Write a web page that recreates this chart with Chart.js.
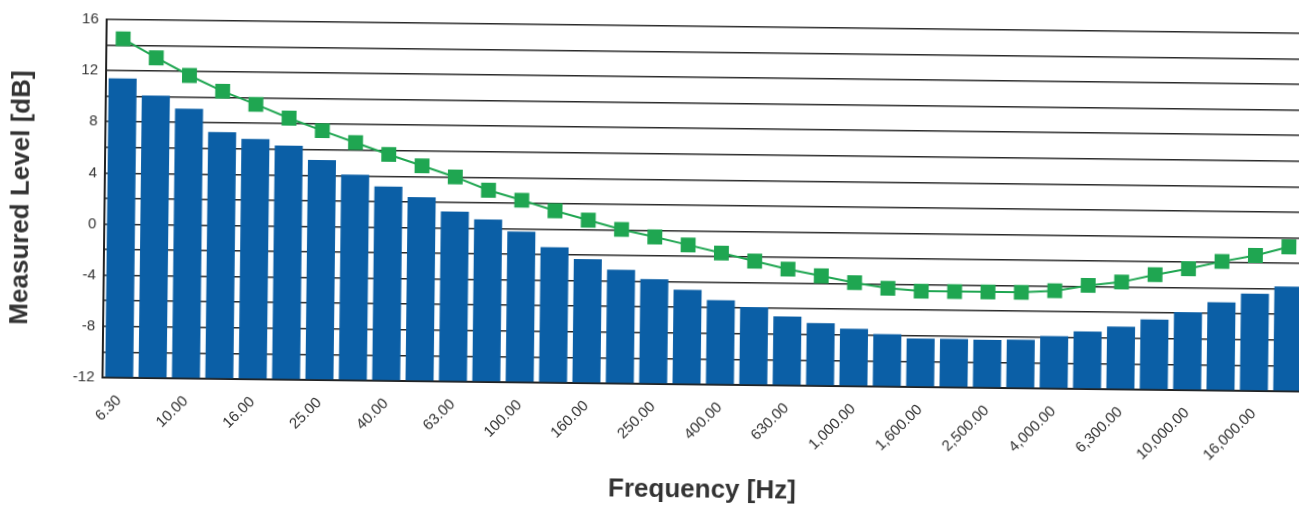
<!DOCTYPE html>
<html>
<head>
<meta charset="utf-8">
<script src="https://cdn.jsdelivr.net/npm/chart.js@4.4.1/dist/chart.umd.min.js"></script>
<style>
  html, body { margin: 0; padding: 0; background: #ffffff; overflow: hidden; width: 1299px; height: 505px; }
  #wrap { position: absolute; left: 0; top: 0; width: 1316px; height: 505px; transform: rotate(0.67deg); transform-origin: 660px 252px; }
</style>
</head>
<body>
<div id="wrap"><canvas id="c" width="1316" height="505"></canvas></div>
<script>
// Frequency categories (1/3 octave bands), shown as tick labels
const frequencies = ['6.30','8.00','10.00','12.50','16.00','20.00','25.00','31.50','40.00','50.00',
  '63.00','80.00','100.00','125.00','160.00','200.00','250.00','315.00','400.00','500.00',
  '630.00','800.00','1,000.00','1,250.00','1,600.00','2,000.00','2,500.00','3,150.00','4,000.00','5,000.00',
  '6,300.00','8,000.00','10,000.00','12,500.00','16,000.00','20,000.00'];

// Measured level per band (blue bars), dB
const measuredLevel = [11.4, 10.1, 9.1, 7.3, 6.8, 6.3, 5.2, 4.1, 3.2, 2.4,
  1.3, 0.7, -0.2, -1.4, -2.3, -3.1, -3.8, -4.6, -5.4, -5.9,
  -6.6, -7.1, -7.5, -7.9, -8.2, -8.2, -8.25, -8.2, -7.9, -7.5,
  -7.1, -6.5, -5.9, -5.1, -4.4, -3.8];

// Reference curve (green squares), dB
const referenceLevel = [14.5, 13.05, 11.7, 10.5, 9.5, 8.45, 7.5, 6.6, 5.7, 4.85,
  4.0, 3.0, 2.25, 1.45, 0.75, 0.05, -0.5, -1.1, -1.7, -2.3,
  -2.9, -3.4, -3.9, -4.3, -4.5, -4.5, -4.5, -4.5, -4.35, -3.9,
  -3.6, -3.0, -2.5, -1.9, -1.4, -0.7];

// Y axis range / labelled ticks
const yMin = -12, yMax = 16, yGridStep = 2, yLabelStep = 4;

const textColor = '#333333';
const fontFamily = '"Liberation Sans", Arial, Helvetica, sans-serif';

new Chart(document.getElementById('c'), {
  data: {
    labels: frequencies,
    datasets: [
      {
        type: 'line',
        label: 'Reference',
        data: referenceLevel,
        borderColor: '#1fa651',
        backgroundColor: '#1fa651',
        borderWidth: 2,
        pointStyle: 'rect',
        pointRadius: 10.5,
        pointBorderWidth: 0,
        pointBackgroundColor: '#1fa651',
        tension: 0,
        order: 0
      },
      {
        type: 'bar',
        label: 'Measured',
        data: measuredLevel,
        base: yMin,
        backgroundColor: '#0b5fa6',
        borderWidth: 0,
        barPercentage: 0.84,
        categoryPercentage: 1.0,
        order: 1
      }
    ]
  },
  options: {
    responsive: false,
    animation: false,
    events: [],
    layout: { padding: { left: 0, top: 26, right: 0, bottom: 0 } },
    plugins: { legend: { display: false }, tooltip: { enabled: false }, title: { display: false } },
    scales: {
      x: {
        offset: true,
        grid: { display: false, drawTicks: false },
        border: { display: true, color: '#222222', width: 2 },
        ticks: {
          autoSkip: false,
          maxRotation: 45,
          minRotation: 45,
          padding: 14,
          color: textColor,
          font: { family: fontFamily, size: 15 },
          callback: function (value, index) { return index % 2 === 0 ? this.getLabelForValue(value) : ''; }
        },
        title: {
          display: true,
          text: 'Frequency [Hz]',
          color: textColor,
          font: { family: fontFamily, size: 26, weight: 'bold' },
          padding: { top: 0, bottom: 0 }
        },
        afterFit: function (scale) { scale.height = 121; }
      },
      y: {
        min: yMin,
        max: yMax,
        grid: { color: '#2a2a2a', lineWidth: 1.6, drawTicks: false },
        border: { display: true, color: '#222222', width: 2 },
        ticks: {
          stepSize: yGridStep,
          padding: 8,
          color: textColor,
          font: { family: fontFamily, size: 15 },
          callback: function (v) { return v % yLabelStep === 0 ? String(v) : ''; }
        },
        title: {
          display: true,
          text: 'Measured Level [dB]',
          color: textColor,
          font: { family: fontFamily, size: 26, weight: 'bold' },
          padding: { top: 5, bottom: 0 }
        },
        afterFit: function (scale) { scale.width = 104; }
      }
    }
  }
});
</script>
</body>
</html>
